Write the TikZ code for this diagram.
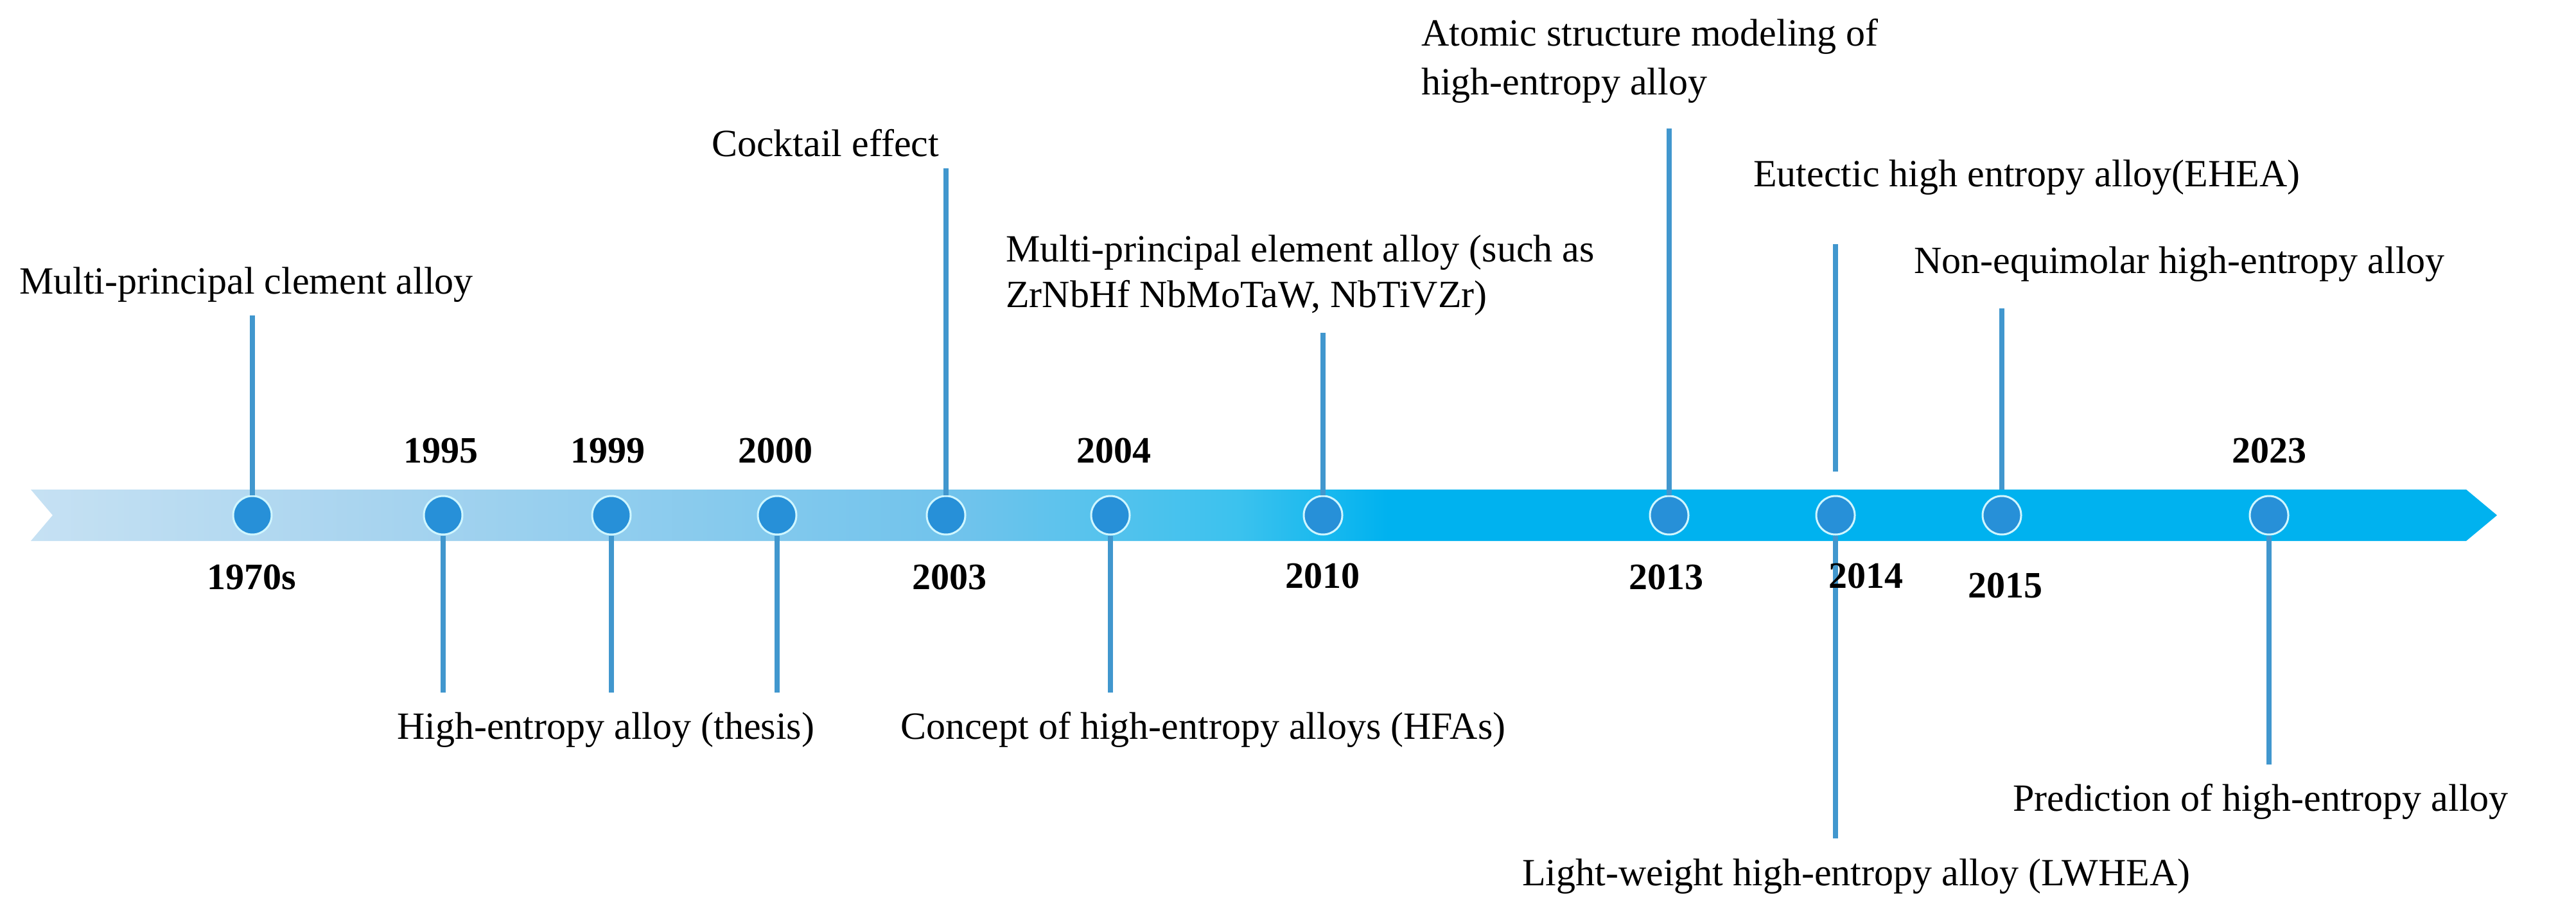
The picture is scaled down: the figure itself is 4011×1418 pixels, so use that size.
\documentclass[tikz,border=0pt]{standalone}
\usepackage{fontspec}
\setmainfont{Liberation Serif}
\definecolor{bandA}{HTML}{C6E1F3}
\definecolor{bandB}{HTML}{A8D4EF}
\definecolor{bandC}{HTML}{6FC3EC}
\definecolor{bandD}{HTML}{3BC2EE}
\definecolor{bandE}{HTML}{00B2EF}
\definecolor{stemcol}{HTML}{4197CE}
\definecolor{dotfill}{HTML}{2790D8}
\definecolor{dotrim}{HTML}{CFF6FF}
\pgfdeclarehorizontalshading{bandshade}{100bp}{color(0bp)=(bandA); color(25bp)=(bandA); color(32bp)=(bandB); color(44bp)=(bandC); color(49.5bp)=(bandD); color(52.5bp)=(bandE); color(75bp)=(bandE); color(100bp)=(bandE)}
\tikzset{
  dot/.style={circle, fill=dotfill, draw=dotrim, line width=3pt, minimum size=60pt, inner sep=0pt},
  stem/.style={draw=stemcol, line width=8pt},
  yearlbl/.style={font=\fontsize{58}{60}\selectfont\bfseries, anchor=base, inner sep=0pt},
  desc/.style={font=\fontsize{60}{74}\selectfont, anchor=base west, inner sep=0pt},
}
\begin{document}
\begin{tikzpicture}[x=1pt,y=-1pt]
\useasboundingbox[fill=white] (0,0) rectangle (4011,1418);
% band
\shade[shading=bandshade] (48,762) -- (3840,762) -- (3888,802) -- (3840,842) -- (48,842) -- (82,802) -- cycle;
% dots
\node[dot] (c1970) at (393,802) {};
\node[dot] (c1995) at (690,802) {};
\node[dot] (c1999) at (952,802) {};
\node[dot] (c2000) at (1210,802) {};
\node[dot] (c2003) at (1473,802) {};
\node[dot] (c2004) at (1729,802) {};
\node[dot] (c2010) at (2060,802) {};
\node[dot] (c2013) at (2599,802) {};
\node[dot] (c2014) at (2858,802) {};
\node[dot] (c2015) at (3117,802) {};
\node[dot] (c2023) at (3533,802) {};
% stem ends
\coordinate (u1970) at (393,491);
\coordinate (d1995) at (690,1078);
\coordinate (d1999) at (952,1078);
\coordinate (d2000) at (1210,1078);
\coordinate (u2003) at (1473,262);
\coordinate (d2004) at (1729,1078);
\coordinate (u2010) at (2060,518);
\coordinate (u2013) at (2599,200);
\coordinate (a2014) at (2858,734);
\coordinate (b2014) at (2858,380);
\coordinate (d2014) at (2858,1305);
\coordinate (s2015) at (3117,762);
\coordinate (u2015) at (3117,480);
\coordinate (d2023) at (3533,1190);
% stems
\draw[stem] (c1970.north) -- (u1970);
\draw[stem] (c1995.south) -- (d1995);
\draw[stem] (c1999.south) -- (d1999);
\draw[stem] (c2000.south) -- (d2000);
\draw[stem] (c2003.north) -- (u2003);
\draw[stem] (c2004.south) -- (d2004);
\draw[stem] (c2010.north) -- (u2010);
\draw[stem] (c2013.north) -- (u2013);
\draw[stem] (a2014) -- (b2014);
\draw[stem] (c2014.south) -- (d2014);
\draw[stem] (s2015) -- (u2015);
\draw[stem] (c2023.south) -- (d2023);
% years
\node[yearlbl] (y1970) at (392,917) {1970s};
\node[yearlbl] (y1995) at (686,720) {1995};
\node[yearlbl] (y1999) at (946,720) {1999};
\node[yearlbl] (y2000) at (1207,720) {2000};
\node[yearlbl] (y2003) at (1478,917) {2003};
\node[yearlbl] (y2004) at (1734,720) {2004};
\node[yearlbl] (y2010) at (2059,915) {2010};
\node[yearlbl] (y2013) at (2594,917) {2013};
\node[yearlbl] (y2014) at (2905,915) {2014};
\node[yearlbl] (y2015) at (3122,930) {2015};
\node[yearlbl] (y2023) at (3533,720) {2023};
% descriptions
\node[desc] (t1970) at (30,457) {Multi-principal clement alloy};
\node[desc] (t2003) at (1108,243) {Cocktail effect};
\node[desc] (t2010a) at (1566,407) {Multi-principal element alloy (such as};
\node[desc] (t2010b) at (1566,478) {ZrNbHf NbMoTaW, NbTiVZr)};
\node[desc] (t2013a) at (2213,72) {Atomic structure modeling of};
\node[desc] (t2013b) at (2213,147) {high-entropy alloy};
\node[desc] (t2014a) at (2730,290) {Eutectic high entropy alloy(EHEA)};
\node[desc] (t2015) at (2980,425) {Non-equimolar high-entropy alloy};
\node[desc] (t1999) at (618,1150) {High-entropy alloy (thesis)};
\node[desc] (t2004) at (1402,1150) {Concept of high-entropy alloys (HFAs)};
\node[desc] (t2014b) at (2370,1378) {Light-weight high-entropy alloy (LWHEA)};
\node[desc] (t2023) at (3134,1262) {Prediction of high-entropy alloy};
\end{tikzpicture}
\end{document}
